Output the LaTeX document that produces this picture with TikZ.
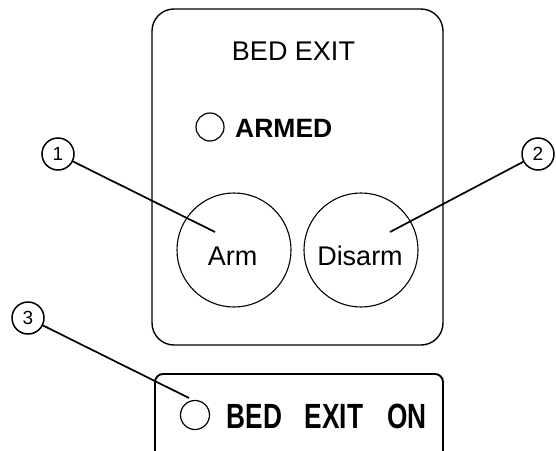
\documentclass[tikz,border=0pt]{standalone}
\usepackage{fontspec}
\setmainfont{Liberation Sans}
\begin{document}
\begin{tikzpicture}[x=1pt,y=-1pt,
  panel/.style={draw=black,line width=1.4pt},
  btn/.style={draw=black,line width=1.1pt,circle,inner sep=0pt},
  lamp/.style={draw=black,line width=1.2pt,circle,inner sep=0pt},
  callout/.style={draw=black,line width=1.5pt,circle,inner sep=0pt,minimum size=32pt,font=\fontsize{19}{20}\selectfont},
  leader/.style={draw=black,line width=1.7pt},
  txt/.style={inner sep=0pt,anchor=base,font=\fontsize{27}{30}\selectfont}]
\useasboundingbox (0,0) rectangle (556,450);
\clip (0,0) rectangle (556,450);
% main panel
\draw[panel,rounded corners=22pt] (152,9) rectangle (443,345);
\node[txt] (title) at (293.5,60) {BED EXIT};
\node[lamp,minimum size=28pt] (armlamp) at (210,127) {};
\node[txt,anchor=base west,font=\fontsize{26.5}{30}\selectfont\bfseries] (armed) at (235,137) {ARMED};
\node[btn,minimum size=114pt] (arm) at (234,250) {};
\node[btn,minimum size=114pt] (disarm) at (361,250) {};
\node[txt] (armtxt) at (232.5,265) {Arm};
\node[txt] (disarmtxt) at (360,265) {Disarm};
% lower indicator box
\draw[panel,line width=1.9pt,rounded corners=8pt] (155,455) -- (155,374) -- (443,374) -- (443,455);
\node[lamp,minimum size=29pt] (onlamp) at (195,415) {};
\node[txt,font=\fontsize{35}{38}\selectfont\bfseries] (w1) at (254.5,428) {\scalebox{0.75}[1]{BED}};
\node[txt,font=\fontsize{35}{38}\selectfont\bfseries] (w2) at (334,428) {\scalebox{0.75}[1]{EXIT}};
\node[txt,font=\fontsize{35}{38}\selectfont\bfseries] (w3) at (407,428) {\scalebox{0.75}[1]{ON}};
% callouts
\node[callout] (c1) at (58,154) {1};
\node[callout] (c2) at (538,154) {2};
\node[callout] (c3) at (28,318) {3};
\coordinate (p1) at (215,232);
\coordinate (p2) at (390,232);
\coordinate (p3) at (189,398);
\draw[leader] (c1) -- (p1);
\draw[leader] (c2) -- (p2);
\draw[leader] (c3) -- (p3);
\end{tikzpicture}
\end{document}
